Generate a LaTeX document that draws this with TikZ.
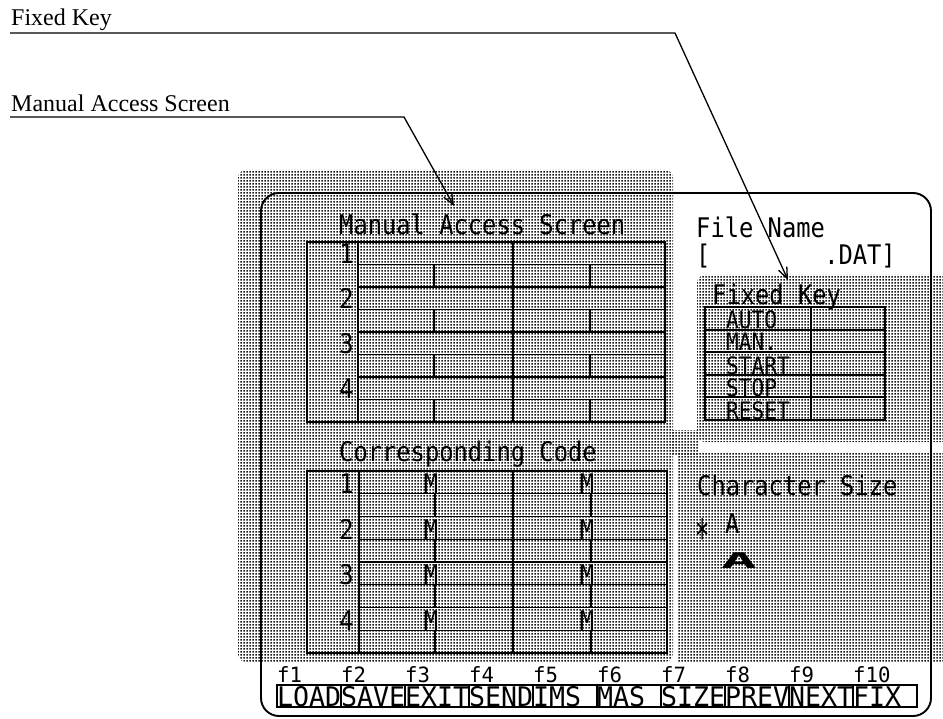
\documentclass[tikz,border=0pt]{standalone}
\usepackage{fontspec}
\setmainfont{Liberation Serif}
\newfontfamily\scrfont[FakeStretch=0.88]{DejaVu Sans Mono}
\newfontfamily\keyfont[FakeStretch=0.985]{DejaVu Sans Mono}
\usetikzlibrary{arrows.meta,patterns}

% dotted screen tone used for the highlighted screen areas
\pgfdeclarepatternformonly{screentone}{\pgfqpoint{0pt}{0pt}}{\pgfqpoint{3pt}{3pt}}{\pgfqpoint{3pt}{3pt}}%
  {\pgfpathrectangle{\pgfqpoint{0.6pt}{0.6pt}}{\pgfqpoint{1.75pt}{1.75pt}}\pgfusepath{fill}}

\tikzset{
  tone/.style={pattern=screentone, pattern color=black!90},
  frameline/.style={line width=1.9pt, rounded corners=18pt},
  grid/.style={line width=1.05pt},
  scr/.style={font=\scrfont\fontsize{27}{27}\selectfont, inner sep=0pt, anchor=base west},
  fklabel/.style={font=\scrfont\fontsize{24}{24}\selectfont, inner sep=0pt, anchor=base west},
  keytxt/.style={font=\keyfont\fontsize{27}{27}\selectfont, inner sep=0pt, anchor=base west},
  fkey/.style={font=\keyfont\fontsize{21}{21}\selectfont, inner sep=0pt, anchor=base west},
  callout/.style={font=\fontsize{24}{24}\selectfont, inner sep=0pt, anchor=base west},
  leader/.style={line width=1.3pt, -{Straight Barb[length=11pt,width=9pt]}},
}

\begin{document}
\begin{tikzpicture}[x=1pt,y=-1pt]
\useasboundingbox (0,0) rectangle (943,719);
\fill[white] (0,0) rectangle (943,719);

% shaded areas of the screen
\fill[tone, rounded corners=8pt] (238,170) rectangle (673,662);
\fill[tone, rounded corners=8pt] (697,275) rectangle (955,442);
\fill[tone] (672,430) rectangle (698,455);
\fill[tone] (677,453) rectangle (943,662);

% screen outline
\draw[frameline] (261,193) rectangle (931,716);

% ---- Manual Access Screen table ----
\node[scr] (mastitle) at (339,235) {Manual Access Screen};
\draw[grid] (307,242) rectangle (665,422);
\draw[grid] (358,242) -- (358,422);
\draw[grid] (513,242) -- (513,422);
\foreach \k in {1,...,7} \draw[grid] (358,242+22.5*\k) -- (665,242+22.5*\k);
\foreach \k in {1,3,5,7} {
  \draw[grid] (434,242+22.5*\k) -- (434,242+22.5*\k+22.5);
  \draw[grid] (590,242+22.5*\k) -- (590,242+22.5*\k+22.5);
}
\foreach \n in {1,...,4}
  \node[scr, anchor=base east] (masrow\n) at (354,242+45*\n-23) {\n};

% ---- Corresponding Code table ----
\node[scr] (cctitle) at (339,461) {Corresponding Code};
\draw[grid] (307,471) rectangle (667,653);
\draw[grid] (359,471) -- (359,653);
\draw[grid] (513,471) -- (513,653);
\foreach \k in {1,...,7} \draw[grid] (359,471+22.75*\k) -- (667,471+22.75*\k);
\foreach \k in {1,3,5,7} {
  \draw[grid] (435,471+22.75*\k) -- (435,471+22.75*\k+22.75);
  \draw[grid] (591,471+22.75*\k) -- (591,471+22.75*\k+22.75);
}
\foreach \n in {1,...,4} {
  \node[scr, anchor=base east] (ccrow\n) at (354,471+45.5*\n-23) {\n};
  \node[scr, anchor=base] (ccma\n) at (431,471+45.5*\n-23) {M};
  \node[scr, anchor=base] (ccmb\n) at (587,471+45.5*\n-23) {M};
}

% ---- File name ----
\node[scr] (fname) at (696,238) {File Name};
\node[scr] (fbrk) at (696,265) {[};
\node[scr, anchor=base east] (fext) at (896,265) {.DAT]};

% ---- Fixed key table ----
\node[scr] (fktitle) at (712,305) {Fixed Key};
\draw[grid] (705,307) rectangle (885,420);
\draw[grid] (811,307) -- (811,420);
\foreach \y in {330,352,375,397} \draw[grid] (705,\y) -- (885,\y);
\foreach \t/\y [count=\i] in {AUTO/329,MAN./351,START/374,STOP/396,RESET/419}
  \node[fklabel] (fk\i) at (726,\y) {\t};

% ---- Character size ----
\node[scr] (csize) at (697,495) {Character Size};
\node[scr] (cstar) at (695,553) {\scalebox{1}[1.75]{*}};
\node[scr] (csmall) at (725,533) {A};
\node[scr] (cwide) at (721,568) {\scalebox{2.5}[0.8]{\bfseries A}};

% ---- Function keys ----
\foreach \t [count=\i from 0] in {LOAD,SAVE,EXIT,SEND,IMS,MAS,SIZE,PREV,NEXT,FIX} {
  \draw[line width=1.1pt] (277+64*\i,685) rectangle (341+64*\i,707);
  \node[keytxt] (key\i) at (277+64*\i,706) {\t};
  \pgfmathtruncatemacro{\fn}{\i+1}
  \node[fkey] (fn\i) at (277+64*\i,682) {f\fn};
}

% ---- Callouts ----
\node[callout] (lblfixed) at (11,26) {Fixed Key};
\node[callout] (lblmas) at (11,112) {Manual Access Screen};
\coordinate (fixbend) at (675,33);
\coordinate (fixtip) at (788,280);
\coordinate (masbend) at (404,117);
\coordinate (mastip) at (454,206);
\draw[leader] ([xshift=-1pt]lblfixed.west |- fixbend) -- (fixbend) -- (fixtip);
\draw[leader] ([xshift=-1pt]lblmas.west |- masbend) -- (masbend) -- (mastip);
\end{tikzpicture}
\end{document}
